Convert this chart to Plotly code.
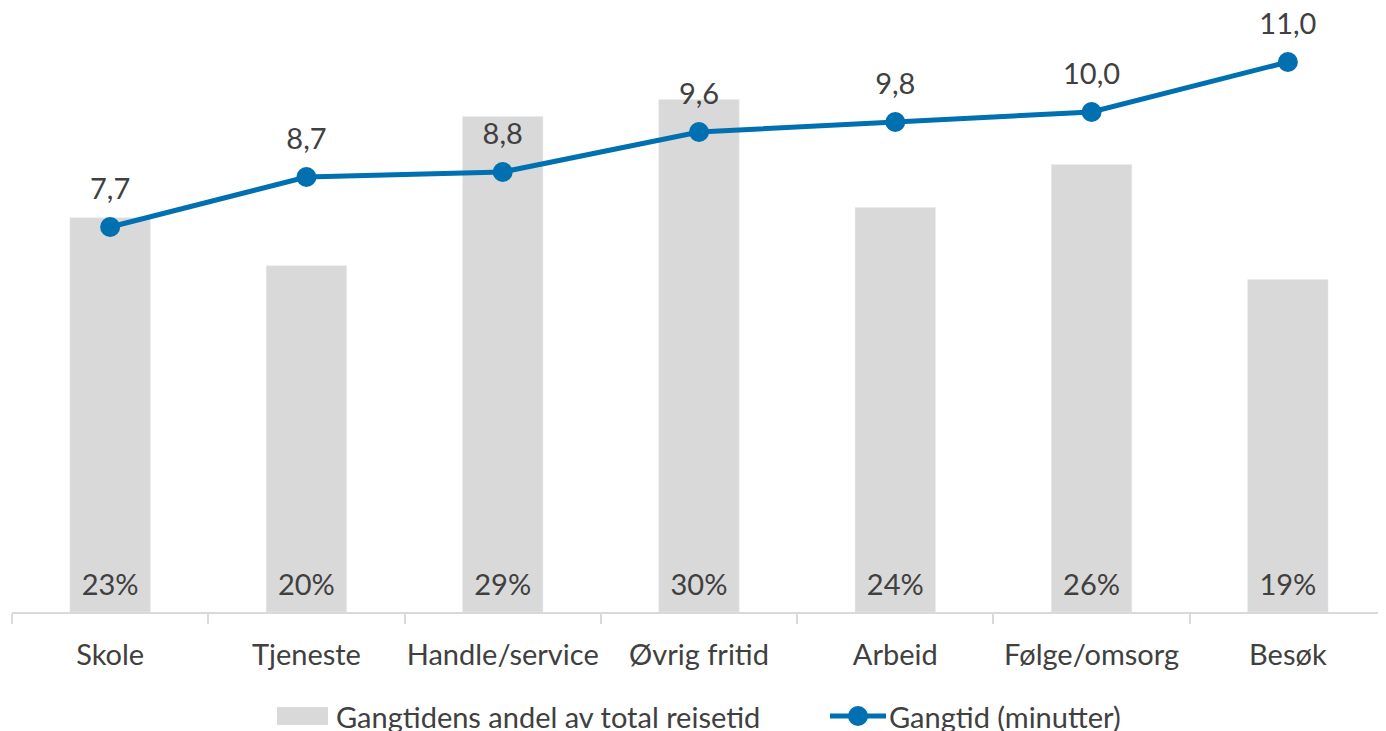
import plotly.graph_objects as go

_TEXT = "#404040"
_BAR = "#d9d9d9"
_LINE = "#0070b0"
_FONT = "Lato, Carlito, 'Open Sans', sans-serif"

categories = ["Skole", "Tjeneste", "Handle/service", "Øvrig fritid", "Arbeid", "Følge/omsorg", "Besøk"]
andel = [0.230, 0.202, 0.289, 0.299, 0.236, 0.261, 0.194]
gangtid = [7.7, 8.7, 8.8, 9.6, 9.8, 10.0, 11.0]

BAR_NAME = "Gangtidens andel av total reisetid"
LINE_NAME = "Gangtid (minutter)"

# page body has an 8px margin, so the figure sits 8px right/down
_L, _T, _B = 4, 4, 119
_W, _H = 1378, 723
_PW = _W - _L
_PH = _H - _T - _B


def px_x(x):
    return (x - 8 - _L) / _PW


def px_y(y):
    return (_H - _B + 8 - y) / _PH


fig = go.Figure()

fig.add_trace(
    go.Bar(
        x=categories,
        y=andel,
        name=BAR_NAME,
        marker_color=_BAR,
        width=0.41,
        showlegend=False,
        hovertemplate="%{x}: %{y:.0%}<extra></extra>",
    )
)

# percentage labels sitting at the base of each bar
fig.add_trace(
    go.Scatter(
        x=categories,
        y=[0 for _ in andel],
        text=[f"{v:.0%}" for v in andel],
        mode="markers+text",
        marker=dict(size=14, opacity=0),
        textposition="top center",
        textfont=dict(size=29, color=_TEXT),
        showlegend=False,
        hoverinfo="skip",
        cliponaxis=False,
    )
)

fig.add_trace(
    go.Scatter(
        x=categories,
        y=gangtid,
        yaxis="y2",
        name=LINE_NAME,
        mode="lines+markers",
        line=dict(color=_LINE, width=5),
        marker=dict(color=_LINE, size=20),
        showlegend=False,
        cliponaxis=False,
    )
)

# value labels above the line points
fig.add_trace(
    go.Scatter(
        x=categories,
        y=gangtid,
        yaxis="y2",
        mode="markers+text",
        marker=dict(size=32, opacity=0),
        texttemplate="%{y:.1f}",
        textposition="top center",
        textfont=dict(size=29, color=_TEXT),
        showlegend=False,
        hoverinfo="skip",
        cliponaxis=False,
    )
)

# legend drawn by hand (wide grey swatch like the original)
shapes = [
    dict(type="rect", xref="paper", yref="paper",
         x0=px_x(277), x1=px_x(328), y0=px_y(725), y1=px_y(707),
         fillcolor=_BAR, line=dict(width=0)),
    dict(type="line", xref="paper", yref="paper",
         x0=px_x(830), x1=px_x(886), y0=px_y(716), y1=px_y(716),
         line=dict(color=_LINE, width=5)),
    dict(type="circle", xref="paper", yref="paper",
         x0=px_x(848), x1=px_x(868), y0=px_y(726), y1=px_y(706),
         fillcolor=_LINE, line=dict(width=0)),
]
annotations = [
    dict(text=BAR_NAME, xref="paper", yref="paper", x=px_x(334), y=px_y(716),
         xanchor="left", yanchor="middle", showarrow=False,
         font=dict(size=29, color=_TEXT)),
    dict(text=LINE_NAME, xref="paper", yref="paper", x=px_x(887), y=px_y(716),
         xanchor="left", yanchor="middle", showarrow=False,
         font=dict(size=29, color=_TEXT)),
]

fig.update_layout(
    width=_W,
    height=_H,
    paper_bgcolor="#ffffff",
    plot_bgcolor="#ffffff",
    separators=", ",
    font=dict(family=_FONT, size=29, color=_TEXT),
    margin=dict(l=_L, r=0, t=_T, b=_B),
    showlegend=False,
    shapes=shapes,
    annotations=annotations,
    xaxis=dict(
        showline=True,
        linecolor=_BAR,
        linewidth=2,
        ticks="outside",
        tickson="boundaries",
        ticklen=10,
        tickcolor=_BAR,
        tickwidth=2,
        tickangle=0,
        ticklabelstandoff=16,
        tickfont=dict(size=29, color=_TEXT),
        showgrid=False,
        automargin=False,
    ),
    yaxis=dict(range=[0, 0.35], visible=False, showgrid=False),
    yaxis2=dict(range=[0, 12], overlaying="y", visible=False, showgrid=False),
)

fig.write_html("out.html")
